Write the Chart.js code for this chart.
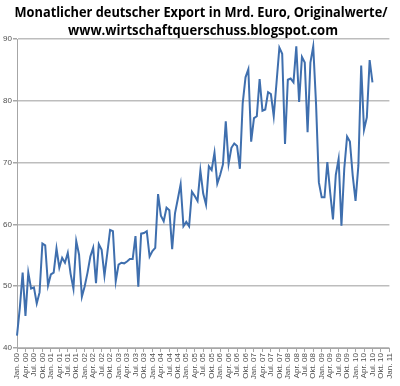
<!DOCTYPE html>
<html>
<head>
<meta charset="utf-8">
<script src="https://cdn.jsdelivr.net/npm/chart.js@4"></script>
<style>
  html, body { margin: 0; padding: 0; background: #fff; }
  #wrap { width: 400px; height: 386px; }
</style>
</head>
<body>
<div id="wrap"><canvas id="exportChart"></canvas></div>
<script>
const monthNames = ['Jan.', 'Feb.', 'Mrz.', 'Apr.', 'Mai.', 'Jun.', 'Jul.', 'Aug.', 'Sep.', 'Okt.', 'Nov.', 'Dez.'];
const years = ['00', '01', '02', '03', '04', '05', '06', '07', '08', '09', '10', '11'];

const titleLines = [
  'Monatlicher deutscher Export in Mrd. Euro, Originalwerte/',
  'www.wirtschaftquerschuss.blogspot.com'
];

// Mrd. Euro, Jan. 2000 - Jul. 2010
const exports2000 = [42.0, 46.5, 52.2, 45.2, 52.2, 49.6, 49.8, 47.2, 49.0, 56.9, 56.6, 50.1];
const exports2001 = [51.9, 52.2, 56.1, 53.0, 54.6, 53.8, 55.4, 52.0, 49.6, 57.3, 55.1, 48.3];
const exports2002 = [50.0, 52.2, 54.8, 56.2, 50.5, 56.8, 55.9, 51.7, 55.3, 59.1, 58.9, 50.8];
const exports2003 = [53.5, 53.8, 53.7, 54.0, 54.4, 54.4, 58.1, 49.9, 58.5, 58.6, 58.9, 54.8];
const exports2004 = [55.7, 56.2, 64.9, 61.4, 60.5, 62.7, 62.3, 56.0, 61.8, 64.1, 66.5, 59.7];
const exports2005 = [60.4, 59.7, 65.3, 64.6, 63.8, 68.7, 65.0, 63.2, 69.4, 68.8, 71.6, 66.6];
const exports2006 = [68.0, 69.7, 76.7, 69.8, 72.4, 73.1, 72.7, 69.0, 79.6, 83.8, 85.1, 73.4];
const exports2007 = [77.2, 77.5, 83.5, 78.4, 78.6, 81.4, 81.1, 77.5, 83.0, 88.6, 87.6, 73.0];
const exports2008 = [83.4, 83.6, 83.0, 88.8, 79.8, 87.1, 86.2, 74.9, 86.2, 88.8, 79.5, 66.8];
const exports2009 = [64.4, 64.4, 70.1, 65.2, 60.8, 68.0, 70.6, 59.8, 69.0, 74.2, 73.4, 67.9];
const exports2010 = [63.8, 69.5, 85.7, 75.3, 77.3, 86.6, 83.0];

const yTicks = [40, 50, 60, 70, 80, 90];

// Jan. 00 ... Jan. 11
const labels = [];
years.forEach(y => {
  monthNames.forEach(m => {
    if (labels.length <= 132) labels.push(m + ' ' + y);
  });
});

const values = [].concat(exports2000, exports2001, exports2002, exports2003, exports2004,
  exports2005, exports2006, exports2007, exports2008, exports2009, exports2010);

// the original title is set in a narrow font, so squeeze each line to its width
const titlePlugin = {
  id: 'narrowTitle',
  afterDraw(chart) {
    const ctx = chart.ctx;
    ctx.save();
    ctx.fillStyle = '#000';
    ctx.font = 'bold 15px "Open Sans", "DejaVu Sans", sans-serif';
    ctx.textAlign = 'center';
    ctx.textBaseline = 'middle';
    ctx.fillText(titleLines[0], 201, 13, 373);
    ctx.fillText(titleLines[1], 203, 31, 270);
    ctx.restore();
  }
};

const exportData = {
  labels: labels,
  datasets: [{
    label: 'Export',
    data: values,
    borderColor: '#3f6fae',
    backgroundColor: '#3f6fae',
    borderWidth: 2,
    pointRadius: 0,
    tension: 0,
    fill: false
  }]
};

const exportOptions = {
  responsive: true,
  maintainAspectRatio: false,
  animation: false,
  layout: { padding: { left: 0, right: 6, top: 39, bottom: 0 } },
  plugins: {
    legend: { display: false },
    tooltip: { enabled: false },
    title: { display: false }
  },
  scales: {
    x: {
      type: 'category',
      offset: false,
      afterFit: scale => { scale.height = 38; },
      grid: {
        drawOnChartArea: false,
        drawTicks: true,
        tickLength: 4,
        color: '#a6a6a6'
      },
      border: { color: '#a6a6a6', width: 1 },
      ticks: {
        autoSkip: false,
        minRotation: 90,
        maxRotation: 90,
        padding: 1,
        color: '#505050',
        font: { family: '"Liberation Sans", Arial, sans-serif', size: 8 },
        callback: function (val, index) {
          return index % 3 === 0 ? this.getLabelForValue(val) : null;
        }
      }
    },
    y: {
      min: 40,
      max: 90,
      afterFit: scale => { scale.width = 17; },
      afterBuildTicks: scale => { scale.ticks = yTicks.map(v => ({ value: v })); },
      grid: {
        color: '#bdbdbd',
        lineWidth: 1.5,
        tickLength: 4,
        tickColor: '#a6a6a6'
      },
      border: { color: '#a6a6a6', width: 1 },
      ticks: {
        padding: 1,
        color: '#505050',
        font: { family: '"Liberation Sans", Arial, sans-serif', size: 8 }
      }
    }
  }
};

const exportChart = new Chart(document.getElementById('exportChart'), {
  type: 'line',
  data: exportData,
  options: exportOptions,
  plugins: [titlePlugin]
});
</script>
</body>
</html>
